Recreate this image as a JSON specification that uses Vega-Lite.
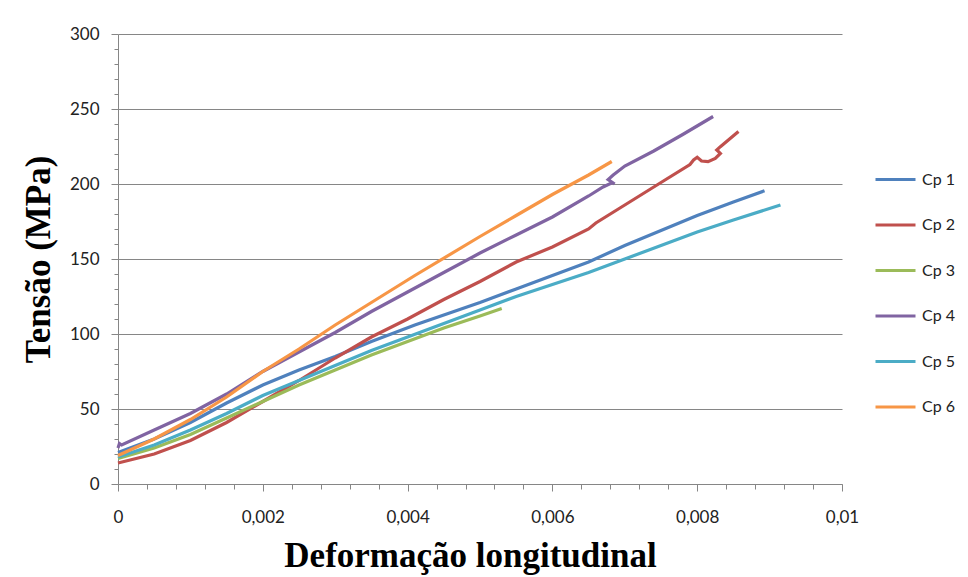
{
  "$schema": "https://vega.github.io/schema/vega-lite/v6.json",
  "autosize": {"type": "none"},
  "width": 724,
  "height": 450,
  "padding": {"left": 118, "top": 34, "right": 126, "bottom": 93},
  "background": "white",
  "config": {"view": {"stroke": null}},
  "data": {"values": [
    {"s": "Cp 1", "x": 0, "y": 21},
    {"s": "Cp 1", "x": 0.0005, "y": 30},
    {"s": "Cp 1", "x": 0.001, "y": 41},
    {"s": "Cp 1", "x": 0.0015, "y": 54},
    {"s": "Cp 1", "x": 0.002, "y": 66},
    {"s": "Cp 1", "x": 0.0025, "y": 76},
    {"s": "Cp 1", "x": 0.003, "y": 85},
    {"s": "Cp 1", "x": 0.0035, "y": 95},
    {"s": "Cp 1", "x": 0.0041, "y": 106},
    {"s": "Cp 1", "x": 0.005, "y": 121},
    {"s": "Cp 1", "x": 0.0055, "y": 130},
    {"s": "Cp 1", "x": 0.006, "y": 139},
    {"s": "Cp 1", "x": 0.0065, "y": 148},
    {"s": "Cp 1", "x": 0.007, "y": 159},
    {"s": "Cp 1", "x": 0.0075, "y": 169},
    {"s": "Cp 1", "x": 0.008, "y": 179},
    {"s": "Cp 1", "x": 0.0085, "y": 188},
    {"s": "Cp 1", "x": 0.00893, "y": 195.5},

    {"s": "Cp 2", "x": 0, "y": 14},
    {"s": "Cp 2", "x": 0.0005, "y": 20},
    {"s": "Cp 2", "x": 0.001, "y": 29},
    {"s": "Cp 2", "x": 0.0015, "y": 41},
    {"s": "Cp 2", "x": 0.002, "y": 55},
    {"s": "Cp 2", "x": 0.0025, "y": 69},
    {"s": "Cp 2", "x": 0.003, "y": 84},
    {"s": "Cp 2", "x": 0.0035, "y": 98},
    {"s": "Cp 2", "x": 0.004, "y": 110},
    {"s": "Cp 2", "x": 0.0045, "y": 123},
    {"s": "Cp 2", "x": 0.005, "y": 135},
    {"s": "Cp 2", "x": 0.0055, "y": 148},
    {"s": "Cp 2", "x": 0.006, "y": 158},
    {"s": "Cp 2", "x": 0.0065, "y": 170},
    {"s": "Cp 2", "x": 0.0066, "y": 174},
    {"s": "Cp 2", "x": 0.007, "y": 186},
    {"s": "Cp 2", "x": 0.0075, "y": 201},
    {"s": "Cp 2", "x": 0.0079, "y": 213},
    {"s": "Cp 2", "x": 0.00795, "y": 216},
    {"s": "Cp 2", "x": 0.008, "y": 217.8},
    {"s": "Cp 2", "x": 0.00806, "y": 215.3},
    {"s": "Cp 2", "x": 0.00815, "y": 214.9},
    {"s": "Cp 2", "x": 0.00825, "y": 217.1},
    {"s": "Cp 2", "x": 0.00832, "y": 220.4},
    {"s": "Cp 2", "x": 0.00827, "y": 222.7},
    {"s": "Cp 2", "x": 0.00832, "y": 224.9},
    {"s": "Cp 2", "x": 0.00857, "y": 235},

    {"s": "Cp 3", "x": 0, "y": 17},
    {"s": "Cp 3", "x": 0.0005, "y": 24},
    {"s": "Cp 3", "x": 0.001, "y": 33},
    {"s": "Cp 3", "x": 0.0015, "y": 44},
    {"s": "Cp 3", "x": 0.002, "y": 55},
    {"s": "Cp 3", "x": 0.0025, "y": 66},
    {"s": "Cp 3", "x": 0.003, "y": 76},
    {"s": "Cp 3", "x": 0.0035, "y": 86},
    {"s": "Cp 3", "x": 0.004, "y": 95},
    {"s": "Cp 3", "x": 0.0045, "y": 104},
    {"s": "Cp 3", "x": 0.005, "y": 112},
    {"s": "Cp 3", "x": 0.0053, "y": 117},

    {"s": "Cp 4", "x": 0, "y": 24},
    {"s": "Cp 4", "x": 0.00002, "y": 27},
    {"s": "Cp 4", "x": 0.00005, "y": 26},
    {"s": "Cp 4", "x": 0.0005, "y": 36},
    {"s": "Cp 4", "x": 0.001, "y": 47},
    {"s": "Cp 4", "x": 0.0015, "y": 60},
    {"s": "Cp 4", "x": 0.002, "y": 75},
    {"s": "Cp 4", "x": 0.0025, "y": 88},
    {"s": "Cp 4", "x": 0.003, "y": 101},
    {"s": "Cp 4", "x": 0.0035, "y": 115},
    {"s": "Cp 4", "x": 0.004, "y": 128},
    {"s": "Cp 4", "x": 0.0045, "y": 141},
    {"s": "Cp 4", "x": 0.005, "y": 154},
    {"s": "Cp 4", "x": 0.0055, "y": 166},
    {"s": "Cp 4", "x": 0.006, "y": 178},
    {"s": "Cp 4", "x": 0.0065, "y": 192},
    {"s": "Cp 4", "x": 0.0067, "y": 198},
    {"s": "Cp 4", "x": 0.00683, "y": 201},
    {"s": "Cp 4", "x": 0.00686, "y": 200},
    {"s": "Cp 4", "x": 0.00677, "y": 203},
    {"s": "Cp 4", "x": 0.00684, "y": 206},
    {"s": "Cp 4", "x": 0.007, "y": 212},
    {"s": "Cp 4", "x": 0.0074, "y": 222},
    {"s": "Cp 4", "x": 0.0078, "y": 233},
    {"s": "Cp 4", "x": 0.00822, "y": 245},

    {"s": "Cp 5", "x": 0, "y": 18},
    {"s": "Cp 5", "x": 0.0005, "y": 26},
    {"s": "Cp 5", "x": 0.001, "y": 36},
    {"s": "Cp 5", "x": 0.0015, "y": 47},
    {"s": "Cp 5", "x": 0.002, "y": 59},
    {"s": "Cp 5", "x": 0.0025, "y": 69},
    {"s": "Cp 5", "x": 0.003, "y": 79},
    {"s": "Cp 5", "x": 0.0035, "y": 89},
    {"s": "Cp 5", "x": 0.004, "y": 98},
    {"s": "Cp 5", "x": 0.0045, "y": 107},
    {"s": "Cp 5", "x": 0.005, "y": 116},
    {"s": "Cp 5", "x": 0.0055, "y": 125},
    {"s": "Cp 5", "x": 0.006, "y": 133},
    {"s": "Cp 5", "x": 0.0065, "y": 141},
    {"s": "Cp 5", "x": 0.007, "y": 150},
    {"s": "Cp 5", "x": 0.0075, "y": 159},
    {"s": "Cp 5", "x": 0.008, "y": 168},
    {"s": "Cp 5", "x": 0.0085, "y": 176},
    {"s": "Cp 5", "x": 0.00915, "y": 186},

    {"s": "Cp 6", "x": 0, "y": 19},
    {"s": "Cp 6", "x": 0.0005, "y": 30},
    {"s": "Cp 6", "x": 0.001, "y": 43},
    {"s": "Cp 6", "x": 0.0015, "y": 58},
    {"s": "Cp 6", "x": 0.002, "y": 75},
    {"s": "Cp 6", "x": 0.0025, "y": 90},
    {"s": "Cp 6", "x": 0.003, "y": 106},
    {"s": "Cp 6", "x": 0.0035, "y": 121},
    {"s": "Cp 6", "x": 0.0041, "y": 139},
    {"s": "Cp 6", "x": 0.005, "y": 165},
    {"s": "Cp 6", "x": 0.0055, "y": 179},
    {"s": "Cp 6", "x": 0.006, "y": 193},
    {"s": "Cp 6", "x": 0.0065, "y": 206},
    {"s": "Cp 6", "x": 0.00682, "y": 215}
  ]},
  "mark": {"type": "line", "strokeWidth": 3.2, "clip": false},
  "encoding": {
    "order": {"value": null},
    "x": {
      "field": "x", "type": "quantitative",
      "scale": {"domain": [0, 0.01], "nice": false, "zero": false},
      "axis": {
        "values": [0, 0.0004, 0.0008, 0.0012, 0.0016, 0.002, 0.0024, 0.0028, 0.0032, 0.0036, 0.004, 0.0044, 0.0048, 0.0052, 0.0056, 0.006, 0.0064, 0.0068, 0.0072, 0.0076, 0.008, 0.0084, 0.0088, 0.0092, 0.0096, 0.01],
        "labelExpr": "round(datum.value*10000) % 20 === 0 ? replace(format(datum.value, '~g'), '.', ',') : ''",
        "labelOverlap": false,
        "labelFlush": false,
        "grid": false,
        "domainColor": "#868686",
        "tickColor": "#868686",
        "tickSize": {"condition": {"test": "round(datum.value*10000) % 20 === 0", "value": 7}, "value": 5},
        "labelPadding": 18,
        "labelFont": "Lato",
        "labelFontSize": 17,
        "labelColor": "#222222",
        "title": "Deformação longitudinal",
        "titleFont": "Liberation Serif",
        "titleFontSize": 35,
        "titleFontWeight": "bold",
        "titleColor": "#000000",
        "titlePadding": 13,
        "titleX": 352
      }
    },
    "y": {
      "field": "y", "type": "quantitative",
      "scale": {"domain": [0, 300], "nice": false, "zero": true},
      "axis": {
        "values": [0, 10, 20, 30, 40, 50, 60, 70, 80, 90, 100, 110, 120, 130, 140, 150, 160, 170, 180, 190, 200, 210, 220, 230, 240, 250, 260, 270, 280, 290, 300],
        "labelExpr": "datum.value % 50 === 0 ? datum.label : ''",
        "labelOverlap": false,
        "labelFlush": false,
        "grid": true,
        "gridColor": {"condition": {"test": "datum.value % 50 === 0", "value": "#868686"}, "value": "transparent"},
        "gridWidth": 1,
        "domainColor": "#868686",
        "tickColor": "#868686",
        "tickSize": {"condition": {"test": "datum.value % 50 === 0", "value": 7}, "value": 4},
        "labelPadding": 12,
        "labelFont": "Lato",
        "labelFontSize": 17,
        "labelColor": "#222222",
        "title": "Tensão (MPa)",
        "titleFont": "Liberation Serif",
        "titleFontSize": 35,
        "titleFontWeight": "bold",
        "titleColor": "#000000",
        "titlePadding": 13
      }
    },
    "color": {
      "field": "s", "type": "nominal",
      "scale": {"domain": ["Cp 1", "Cp 2", "Cp 3", "Cp 4", "Cp 5", "Cp 6"], "range": ["#4F81BD", "#C0504D", "#9BBB59", "#8064A2", "#4BACC6", "#F79646"]},
      "legend": {
        "title": null,
        "orient": "none",
        "legendX": 756,
        "legendY": 124,
        "padding": 0,
        "symbolType": "stroke",
        "symbolSize": 1600,
        "symbolStrokeWidth": 3,
        "labelOffset": 5,
        "labelFont": "Lato",
        "labelFontSize": 16,
        "labelColor": "#222222",
        "rowPadding": 15.5
      }
    }
  }
}
